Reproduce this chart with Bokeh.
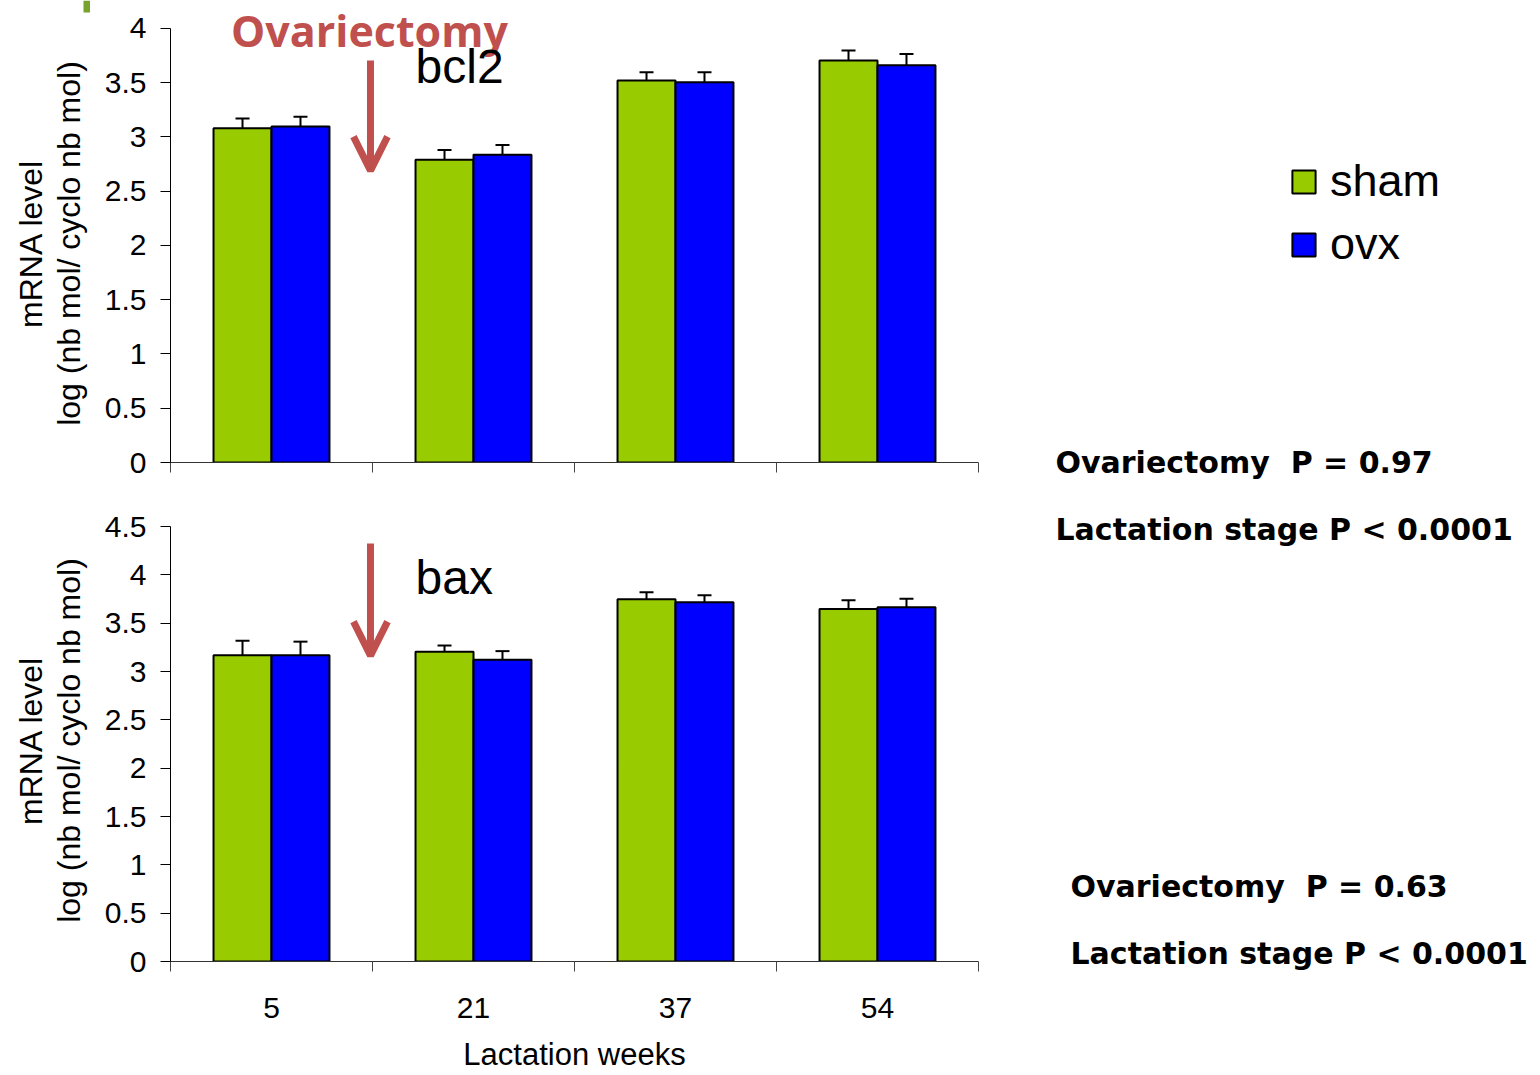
from bokeh.plotting import figure
from bokeh.models import (Range1d, FixedTicker, ColumnDataSource, Whisker,
                          TeeHead, Arrow, OpenHead, Label, Legend, LegendItem, BoxAnnotation)
from bokeh.layouts import column, row
from bokeh.embed import file_html
from bokeh.resources import INLINE
import math

# ---------------- data ----------------
weeks = ["5", "21", "37", "54"]
series = ["sham", "ovx"]

bcl2_sham = [3.08, 2.79, 3.52, 3.705]
bcl2_sham_se = [0.09, 0.09, 0.077, 0.092]
bcl2_ovx = [3.097, 2.836, 3.505, 3.662]
bcl2_ovx_se = [0.09, 0.09, 0.092, 0.104]

bax_sham = [3.169, 3.204, 3.748, 3.648]
bax_sham_se = [0.15, 0.065, 0.072, 0.09]
bax_ovx = [3.169, 3.121, 3.717, 3.665]
bax_ovx_se = [0.14, 0.09, 0.072, 0.087]

top_ticks = [0, 0.5, 1, 1.5, 2, 2.5, 3, 3.5, 4]
top_tick_labels = ["0", "0.5", "1", "1.5", "2", "2.5", "3", "3.5", "4"]
bot_ticks = [0, 0.5, 1, 1.5, 2, 2.5, 3, 3.5, 4, 4.5]
bot_tick_labels = ["0", "0.5", "1", "1.5", "2", "2.5", "3", "3.5", "4", "4.5"]

top_stats = ["Ovariectomy\u00a0 P = 0.97", "Lactation stage P < 0.0001"]
bot_stats = ["Ovariectomy\u00a0 P = 0.63", "Lactation stage P < 0.0001"]

# ---------------- style ----------------
GREEN = "#99CC00"
BLUE = "#0000FF"
RED = "#C0504D"
FONT = "Liberation Sans"
BAR_W = 0.287
OFF_SHAM = 0.3565
OFF_OVX = 0.6435
LEFT_W = 90
PANEL_W = 890
RIGHT_W = 552
TOTAL_H = 1075


def make_panel(sham, sham_se, ovx, ovx_se, ticks, tick_labels, yend,
               height, border_bottom, show_xlabels):
    p = figure(width=PANEL_W, height=height, output_backend="svg", toolbar_location=None,
               x_range=Range1d(0, len(weeks)), y_range=Range1d(0, yend),
               min_border_left=80, min_border_right=2, min_border_top=0,
               min_border_bottom=border_bottom)
    p.outline_line_color = None
    p.grid.visible = False
    p.background_fill_color = None

    n = len(weeks)
    xs_sham = [i + OFF_SHAM for i in range(n)]
    xs_ovx = [i + OFF_OVX for i in range(n)]
    r_sham = p.vbar(x=xs_sham, top=sham, width=BAR_W, bottom=0, fill_color=GREEN,
                    line_color="black", line_width=2)
    r_ovx = p.vbar(x=xs_ovx, top=ovx, width=BAR_W, bottom=0, fill_color=BLUE,
                   line_color="black", line_width=2)

    for xs, v, se in ((xs_sham, sham, sham_se), (xs_ovx, ovx, ovx_se)):
        src = ColumnDataSource(dict(x=xs, lower=v, upper=[a + b for a, b in zip(v, se)]))
        w = Whisker(source=src, base="x", lower="lower", upper="upper", dimension="height",
                    line_color="black", line_width=2,
                    upper_head=TeeHead(size=14, line_color="black", line_width=2),
                    lower_head=None)
        p.add_layout(w)

    # x axis
    xa = p.xaxis[0]
    if show_xlabels:
        xa.ticker = FixedTicker(ticks=[i + 0.5 for i in range(n)], minor_ticks=list(range(n + 1)))
        xa.major_label_overrides = {i + 0.5: lab for i, lab in enumerate(weeks)}
    else:
        xa.ticker = FixedTicker(ticks=[], minor_ticks=list(range(n + 1)))
    xa.major_tick_out = 0
    xa.major_tick_in = 0
    xa.minor_tick_out = 10
    xa.minor_tick_in = 0
    xa.minor_tick_line_color = "#444444"
    xa.axis_line_color = "#333333"
    xa.major_label_text_font = FONT
    xa.major_label_text_font_size = "30px"
    xa.major_label_text_color = "black"
    xa.major_label_standoff = 26
    if show_xlabels:
        xa.axis_label = "Lactation weeks"
        xa.axis_label_text_font = FONT
        xa.axis_label_text_font_size = "31px"
        xa.axis_label_text_font_style = "normal"
        xa.axis_label_text_color = "black"
        xa.axis_label_standoff = 16

    # y axis
    ya = p.yaxis[0]
    ya.ticker = FixedTicker(ticks=ticks)
    ya.major_label_overrides = {t: lab for t, lab in zip(ticks, tick_labels)}
    ya.major_tick_out = 10
    ya.major_tick_in = 0
    ya.minor_tick_line_color = None
    ya.axis_line_color = "black"
    ya.major_tick_line_color = "black"
    ya.major_label_text_font = FONT
    ya.major_label_text_font_size = "30px"
    ya.major_label_text_color = "black"
    ya.major_label_standoff = 14
    return p, r_sham, r_ovx


top, ts, to = make_panel(bcl2_sham, bcl2_sham_se, bcl2_ovx, bcl2_ovx_se,
                         top_ticks, top_tick_labels, 4.258, 495, 33, False)
bot, bs, bo = make_panel(bax_sham, bax_sham_se, bax_ovx, bax_ovx_se,
                         bot_ticks, bot_tick_labels, 4.821, TOTAL_H - 495, 114, True)
top.yaxis[0].bounds = (0, 4)
bot.yaxis[0].bounds = (0, 4.5)

# arrows marking ovariectomy
top.add_layout(Arrow(x_start=0.99, y_start=3.705, x_end=0.99, y_end=2.69,
                     line_color=RED, line_width=7,
                     end=OpenHead(size=34, line_color=RED, line_width=7)))
bot.add_layout(Arrow(x_start=0.99, y_start=4.324, x_end=0.99, y_end=3.165,
                     line_color=RED, line_width=7,
                     end=OpenHead(size=34, line_color=RED, line_width=7)))

top.add_layout(Label(x=0.985, y=3.98, text="Ovariectomy", text_align="center",
                     text_baseline="middle", text_font="Open Sans",
                     text_font_style="bold", text_font_size="43px", text_color=RED))
top.add_layout(Label(x=1.213, y=3.65, text="bcl2", text_align="left",
                     text_baseline="middle", text_font=FONT,
                     text_font_size="48px", text_color="black"))
bot.add_layout(Label(x=1.213, y=3.97, text="bax", text_align="left",
                     text_baseline="middle", text_font=FONT,
                     text_font_size="48px", text_color="black"))


def text_fig(width, x0):
    f = figure(width=width, height=TOTAL_H, output_backend="svg", toolbar_location=None,
               x_range=Range1d(x0, x0 + width), y_range=Range1d(TOTAL_H, 0),
               x_axis_location=None, y_axis_location=None,
               min_border=0, min_border_left=0, min_border_right=0,
               min_border_top=0, min_border_bottom=0)
    f.outline_line_color = None
    f.grid.visible = False
    return f


# left strip: y-axis titles
left = text_fig(LEFT_W, 0)
left.add_layout(BoxAnnotation(left=83, right=92, top=0, bottom=12,
                              fill_color="#77A22B", fill_alpha=1, line_color=None))
for cy in (243, 740):
    left.add_layout(Label(x=30, y=cy, text="mRNA level", angle=math.pi / 2,
                          text_align="center", text_baseline="middle", text_font=FONT,
                          text_font_size="32px", text_color="black"))
    left.add_layout(Label(x=68, y=cy, text="log (nb mol/ cyclo nb mol)", angle=math.pi / 2,
                          text_align="center", text_baseline="middle", text_font=FONT,
                          text_font_size="32px", text_color="black"))

# right strip: legend + statistics
right = text_fig(RIGHT_W, LEFT_W + PANEL_W)
nan = float("nan")
g_sham = right.vbar(x=[nan], top=[nan], width=1, fill_color=GREEN, line_color="black", line_width=2)
g_ovx = right.vbar(x=[nan], top=[nan], width=1, fill_color=BLUE, line_color="black", line_width=2)
legend = Legend(items=[LegendItem(label=series[0], renderers=[g_sham]),
                       LegendItem(label=series[1], renderers=[g_ovx])],
                location=(309, 805), glyph_width=29, glyph_height=29,
                label_text_font=FONT, label_text_font_size="45px", label_text_color="black",
                label_standoff=12, spacing=11, padding=0, margin=0,
                border_line_color=None, background_fill_alpha=0)
right.add_layout(legend)

for xx, yy, txt in ((1055, 462, top_stats[0]), (1055, 529, top_stats[1]),
                    (1070, 886, bot_stats[0]), (1070, 953, bot_stats[1])):
    right.add_layout(Label(x=xx, y=yy, text=txt, text_align="left", text_baseline="middle",
                           text_font="DejaVu Sans", text_font_style="bold",
                           text_font_size="30px", text_color="black"))

layout = row(left, column(top, bot, spacing=0), right, spacing=0)
open("out.html", "w").write(file_html(layout, INLINE))
